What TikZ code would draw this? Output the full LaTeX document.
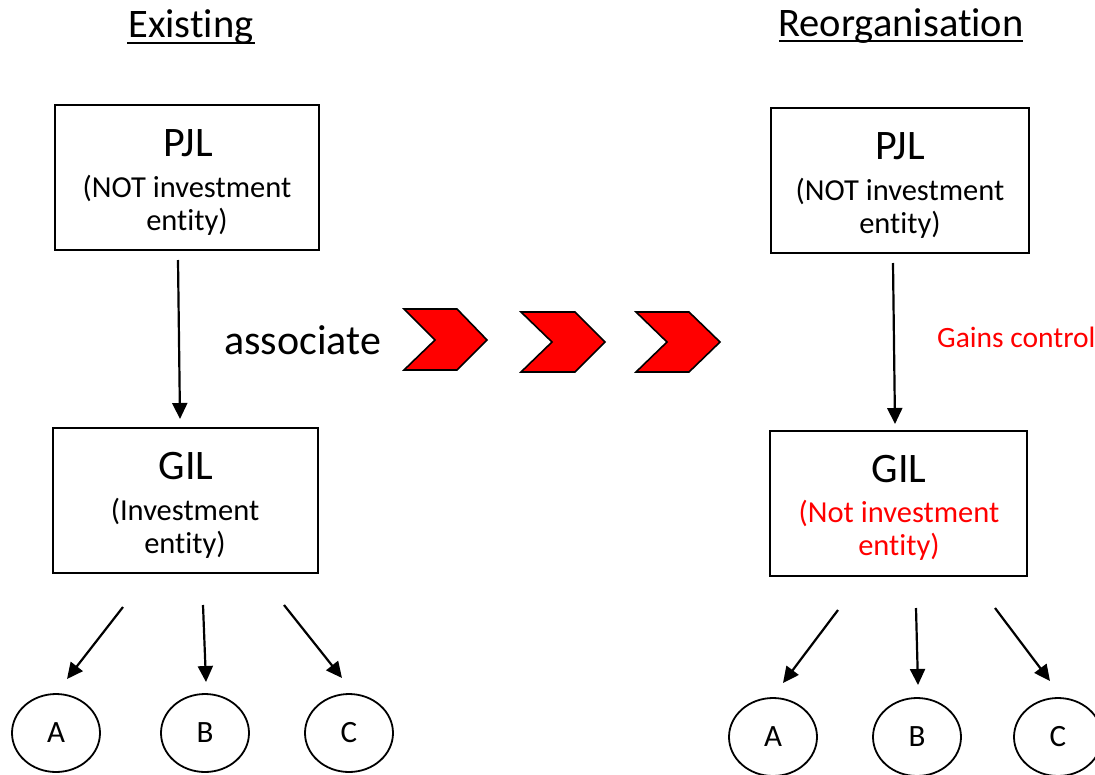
\documentclass[tikz,border=0pt]{standalone}
\usepackage{fontspec}
\setmainfont{Carlito}[Ligatures=NoCommon]
\usetikzlibrary{arrows.meta,shapes.geometric}
\tikzset{
  box/.style={draw, line width=1.6pt, rectangle, inner sep=0pt},
  ent/.style={draw, line width=1.8pt, ellipse, minimum width=88pt, minimum height=78pt, inner sep=0pt, font=\fontsize{31}{31}\selectfont},
  conn/.style={line width=2.2pt, -{Triangle[length=16pt,width=15pt]}},
  chev/.style={draw=black, fill=red, line width=1.6pt, line join=miter},
  big/.style={anchor=base, font=\fontsize{42}{42}\selectfont},
  sub/.style={anchor=base, font=\fontsize{30.5}{30.5}\selectfont},
  ttl/.style={anchor=base, font=\fontsize{40.5}{40.5}\selectfont},
}
\begin{document}
\begin{tikzpicture}[x=1pt,y=-1pt]
\useasboundingbox (0,0) rectangle (1095,774);
% titles
\node[ttl] (t1) at (191,37) {Existing};
\draw[line width=2pt] (127,43) -- (255,43);
\node[ttl] (t2) at (901,36) {Reorganisation};
\draw[line width=2pt] (779,41) -- (1023,41);
% left boxes
\node[box, minimum width=264pt, minimum height=145pt] (pjlL) at (187,177.5) {};
\node[big] (pjlLt) at (188,156) {PJL};
\node[sub] (pjlLa) at (187,197) {(NOT investment};
\node[sub] (pjlLb) at (187,230) {entity)};
\node[box, minimum width=265pt, minimum height=145pt] (gilL) at (185.5,500.5) {};
\node[big] (gilLt) at (186,479) {GIL};
\node[sub] (gilLa) at (185,520) {(Investment};
\node[sub] (gilLb) at (185,553) {entity)};
% right boxes
\node[box, minimum width=258pt, minimum height=145pt] (pjlR) at (900,180.5) {};
\node[big] (pjlRt) at (900,159) {PJL};
\node[sub] (pjlRa) at (900,200) {(NOT investment};
\node[sub] (pjlRb) at (900,233) {entity)};
\node[box, minimum width=257pt, minimum height=145pt] (gilR) at (898.5,503.5) {};
\node[big] (gilRt) at (899,482) {GIL};
\node[sub, text=red] (gilRa) at (899,522) {(Not investment};
\node[sub, text=red] (gilRb) at (899,555) {entity)};
% labels
\node[anchor=base west, font=\fontsize{42}{42}\selectfont, inner sep=0pt] (assoc) at (224,354) {associate};
\node[anchor=base west, font=\fontsize{29.5}{29.5}\selectfont, text=red, inner sep=0pt] (gains) at (937,347) {Gains control};
% chevrons
\draw[chev] (404,309) -- (457,309) -- (487,340) -- (457,370) -- (404,370) -- (435,340) -- cycle;
\draw[chev] (521,312) -- (575,312) -- (605,342) -- (575,372) -- (521,372) -- (552,342) -- cycle;
\draw[chev] (636,312) -- (689,312) -- (720,342) -- (689,372) -- (636,372) -- (667,342) -- cycle;
% entities
\node[ent] (aL) at (56,733) {A};
\node[ent] (bL) at (205,733) {B};
\node[ent] (cL) at (349,733) {C};
\node[ent] (aR) at (773,737) {A};
\node[ent] (bR) at (917,737) {B};
\node[ent] (cR) at (1058,737) {C};
% connector end points
\coordinate (pL) at (178,260); \coordinate (gL) at (180,419);
\coordinate (pR) at (893,263); \coordinate (gR) at (895,424);
\coordinate (l1s) at (123,607); \coordinate (l1e) at (67,679);
\coordinate (l2s) at (203,605); \coordinate (l2e) at (206,682);
\coordinate (l3s) at (284,605); \coordinate (l3e) at (342,678);
\coordinate (r1s) at (838,610); \coordinate (r1e) at (783,683);
\coordinate (r2s) at (916,608); \coordinate (r2e) at (918,685);
\coordinate (r3s) at (995,608); \coordinate (r3e) at (1050,681);
% connectors
\draw[conn] (pL) -- (gL);
\draw[conn] (pR) -- (gR);
\draw[conn] (l1s) -- (l1e);
\draw[conn] (l2s) -- (l2e);
\draw[conn] (l3s) -- (l3e);
\draw[conn] (r1s) -- (r1e);
\draw[conn] (r2s) -- (r2e);
\draw[conn] (r3s) -- (r3e);
\end{tikzpicture}
\end{document}
